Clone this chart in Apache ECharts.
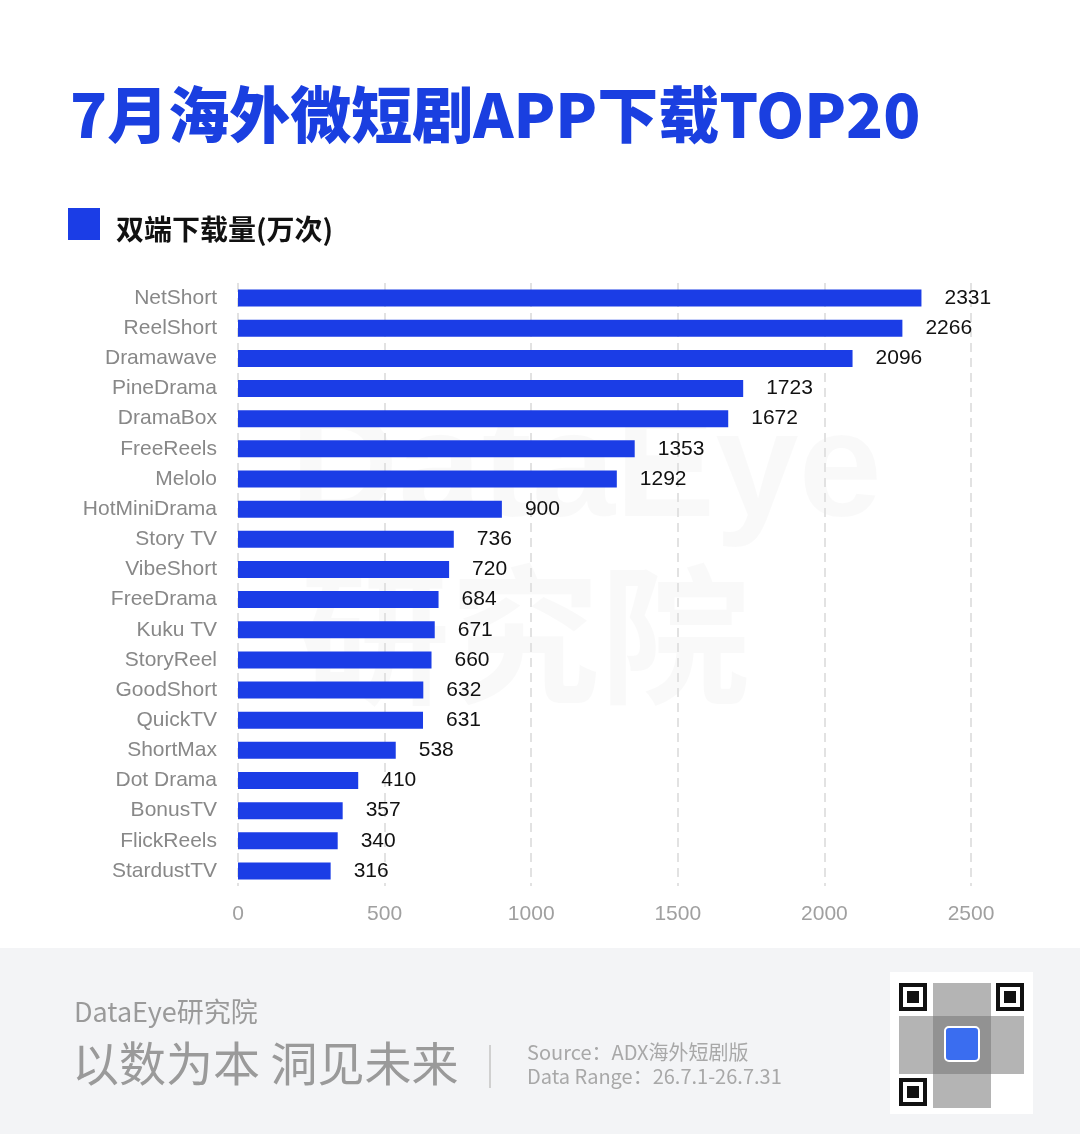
<!DOCTYPE html>
<html><head><meta charset="utf-8">
<script src="https://cdn.jsdelivr.net/npm/echarts@6/dist/echarts.min.js"></script>
<style>html,body{margin:0;padding:0;background:#fff}#c{width:1080px;height:1134px}</style>
</head><body><div id="c"></div>
<script>
const categories = ['NetShort','ReelShort','Dramawave','PineDrama','DramaBox','FreeReels','Melolo','HotMiniDrama','Story TV','VibeShort','FreeDrama','Kuku TV','StoryReel','GoodShort','QuickTV','ShortMax','Dot Drama','BonusTV','FlickReels','StardustTV'];
const downloads = [2331,2266,2096,1723,1672,1353,1292,900,736,720,684,671,660,632,631,538,410,357,340,316];
const xTicks = [0,500,1000,1500,2000,2500];
const seriesName = '双端下载量(万次)';
const title = '7月海外微短剧APP下载TOP20';

const blue = '#1b3de6';
const cjk = '"Noto Sans CJK SC", "Noto Sans", sans-serif';
const lat = '"Liberation Sans", Arial, sans-serif';

const qr = [];
function finder(x,y){
  qr.push({type:'rect',shape:{x:x,y:y,width:28,height:28},style:{fill:'#111'}});
  qr.push({type:'rect',shape:{x:x+4,y:y+4,width:20,height:20},style:{fill:'#fff'}});
  qr.push({type:'rect',shape:{x:x+8,y:y+8,width:12,height:12},style:{fill:'#111'}});
}
const ch = echarts.init(document.getElementById('c'));
finder(899,983); finder(996,983); finder(899,1078);
ch.setOption({
  backgroundColor:'#fff',
  animation:false,
  graphic:[
    {type:'rect',z:-10,shape:{x:0,y:948,width:1080,height:186},style:{fill:'#f3f4f6'}},
    {type:'text',z:-5,left:290,top:400,style:{text:'DataEye',font:'bold 150px '+lat,fill:'rgba(0,0,0,0.025)'}},
    {type:'text',z:-5,left:300,top:560,style:{text:'研究院',font:'bold 150px '+cjk,fill:'rgba(0,0,0,0.025)'}},
    {type:'text',left:70,top:84,style:{text:title,font:'900 61px '+cjk,fill:'#1a3fe0'}},
    {type:'rect',shape:{x:68,y:208,width:32,height:32},style:{fill:blue}},
    {type:'text',left:116,top:215,style:{text:seriesName,font:'bold 28px '+cjk,fill:'#111'}},
    {type:'text',left:74,top:998,style:{text:'DataEye研究院',font:'27px '+cjk,fill:'#9a9a9a'}},
    {type:'text',left:72,top:1040,style:{text:'以数为本 洞见未来',font:'47px '+cjk,fill:'#9a9a9a'}},
    {type:'rect',shape:{x:489,y:1045,width:2,height:43},style:{fill:'#d0d0d0'}},
    {type:'text',left:527,top:1042,style:{text:'Source：ADX海外短剧版',font:'20px '+cjk,fill:'#a8a8a8'}},
    {type:'text',left:527,top:1066,style:{text:'Data Range：26.7.1-26.7.31',font:'20px '+cjk,fill:'#a8a8a8'}},
    {type:'rect',shape:{x:890,y:972,width:143,height:142},style:{fill:'#fff'}},
    {type:'rect',shape:{x:899,y:1016,width:125,height:58},style:{fill:'#777',opacity:0.55}},
    {type:'rect',shape:{x:933,y:983,width:58,height:125},style:{fill:'#777',opacity:0.55}},
    ...qr,
    {type:'rect',shape:{x:945,y:1027,width:34,height:34,r:4},style:{fill:'#3a6df0',stroke:'#fff',lineWidth:2}}
  ],
  grid:{left:238,right:109,top:283,bottom:248,containLabel:false},
  xAxis:{type:'value',min:xTicks[0],max:xTicks[xTicks.length-1],interval:500,
    axisLine:{show:false},axisTick:{show:false},
    axisLabel:{color:'#a0a0a0',fontSize:21,fontFamily:lat,margin:18,formatter:v=>String(v)},
    splitLine:{show:true,lineStyle:{color:'#e2e2e2',width:2,type:[9,6]}}},
  yAxis:{type:'category',data:categories,inverse:true,
    axisLine:{show:false},axisTick:{show:false},
    axisLabel:{color:'#888',fontSize:21,fontFamily:lat,margin:21}},
  series:[{type:'bar',name:seriesName,data:downloads,barWidth:17,
    itemStyle:{color:blue},
    label:{show:true,position:'right',distance:23,color:'#111',fontSize:21,fontFamily:lat}}]
});
</script></body></html>
